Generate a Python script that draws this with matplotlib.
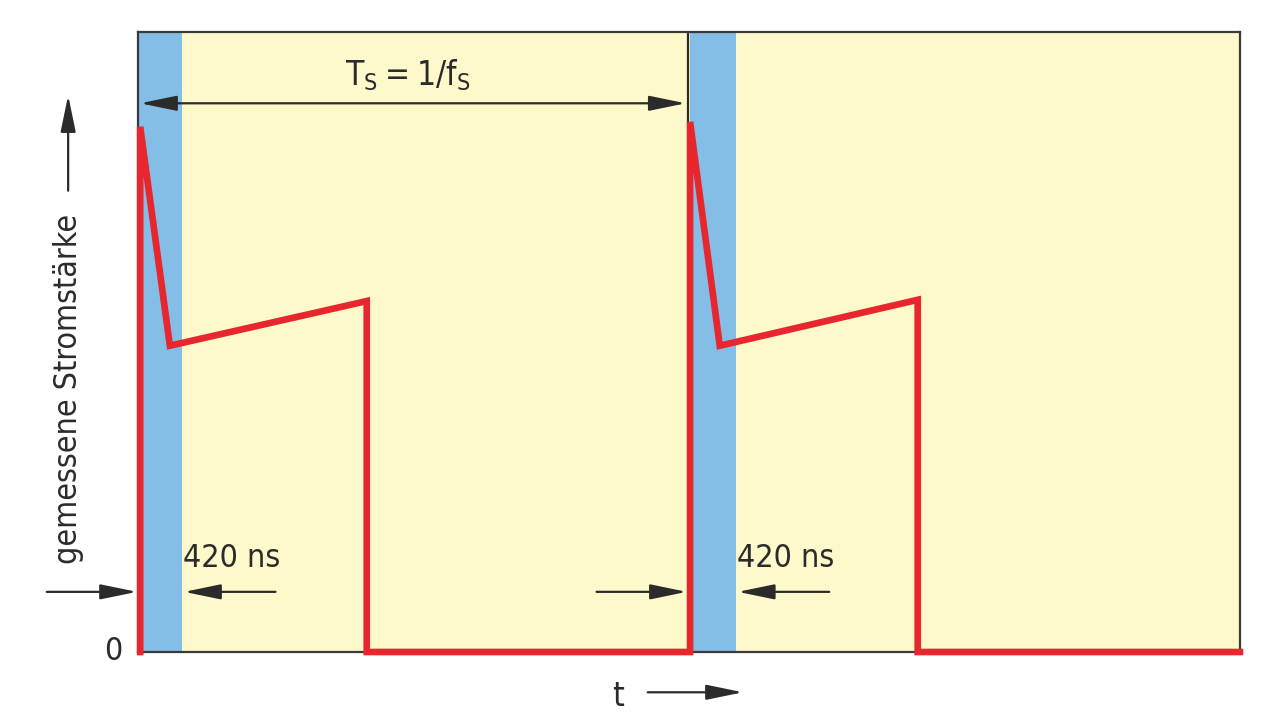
import matplotlib.pyplot as plt

# waveform of the measured current (period = 1 unit, current normalised to axis height)
wave_t = [0.004, 0.004, 0.058, 0.416, 0.416, 1.004, 1.004, 1.058, 1.418, 1.418, 2.004]
wave_i = [0.0, 0.847, 0.494, 0.566, 0.0, 0.0, 0.855, 0.494, 0.568, 0.0, 0.0]

# blanking windows (420 ns) at the start of each period
blank_start = [0.0, 1.004]
blank_end = [0.080, 1.087]
blank_label = ['420 ns', '420 ns']

period_label = r'$\mathregular{T_S = 1/f_S}$'
ylabel = 'gemessene Stromstärke'
xlabel = 't'

YELLOW = '#fef9cb'
BLUE = '#84bde6'
RED = '#e8262e'
DARK = '#2b2b2b'
FONT = dict(family='DejaVu Sans', fontstretch='condensed', color=DARK)

fig = plt.figure(figsize=(12.8, 7.19), dpi=100)
ax = fig.add_axes([0.1078, 0.0932, 0.8609, 0.8623])
ax.set_facecolor(YELLOW)
ax.set_xlim(0, 2.004)
ax.set_ylim(0, 1)
ax.set_xticks([])
ax.set_yticks([])
for s in ax.spines.values():
    s.set_color('#3a3a3a')
    s.set_linewidth(1.6)

for a, b in zip(blank_start, blank_end):
    ax.axvspan(a, b, color=BLUE, lw=0, zorder=1)

# period boundary
ax.plot([1.0, 1.0], [0.855, 1.0], color=DARK, lw=1.6, zorder=2)

ax.plot(wave_t, wave_i, color=RED, lw=4.8, solid_joinstyle='miter',
        clip_on=False, zorder=4)

arrow = dict(arrowstyle='-|>,head_length=1.6,head_width=0.33', color=DARK,
             lw=1.6, shrinkA=0, shrinkB=0, mutation_scale=14)

# period arrow
ax.annotate('', xy=(0.004, 0.885), xytext=(0.996, 0.885),
            arrowprops=dict(arrow, arrowstyle='<|-|>,head_length=1.6,head_width=0.33'))
ax.text(0.491, 0.93, period_label, ha='center', va='center', fontsize=24, **FONT)

# 420 ns markers
for a, b, lab in zip(blank_start, blank_end, blank_label):
    left = a if a > 0 else 0.004
    ax.annotate('', xy=(left - 0.006, 0.097), xytext=(left - 0.17, 0.097),
                arrowprops=arrow, annotation_clip=False)
    ax.annotate('', xy=(b + 0.004, 0.097), xytext=(b + 0.17, 0.097),
                arrowprops=arrow, annotation_clip=False)
    ax.text(b + 0.002, 0.150, lab, ha='left', va='center', fontsize=23, **FONT)

# axis labels
ax.text(-0.045, 0.0, '0', ha='center', va='center', fontsize=23, **FONT)
ax.text(-0.127, 0.425, ylabel, rotation=90, ha='center', va='center',
        fontsize=23, **FONT)
ax.annotate('', xy=(-0.127, 0.898), xytext=(-0.127, 0.744),
            arrowprops=arrow, annotation_clip=False)
ax.text(0.873, -0.072, xlabel, ha='center', va='center', fontsize=24, **FONT)
ax.annotate('', xy=(1.10, -0.065), xytext=(0.927, -0.065),
            arrowprops=arrow, annotation_clip=False)

fig.savefig('out.png', dpi=100, facecolor='white')
